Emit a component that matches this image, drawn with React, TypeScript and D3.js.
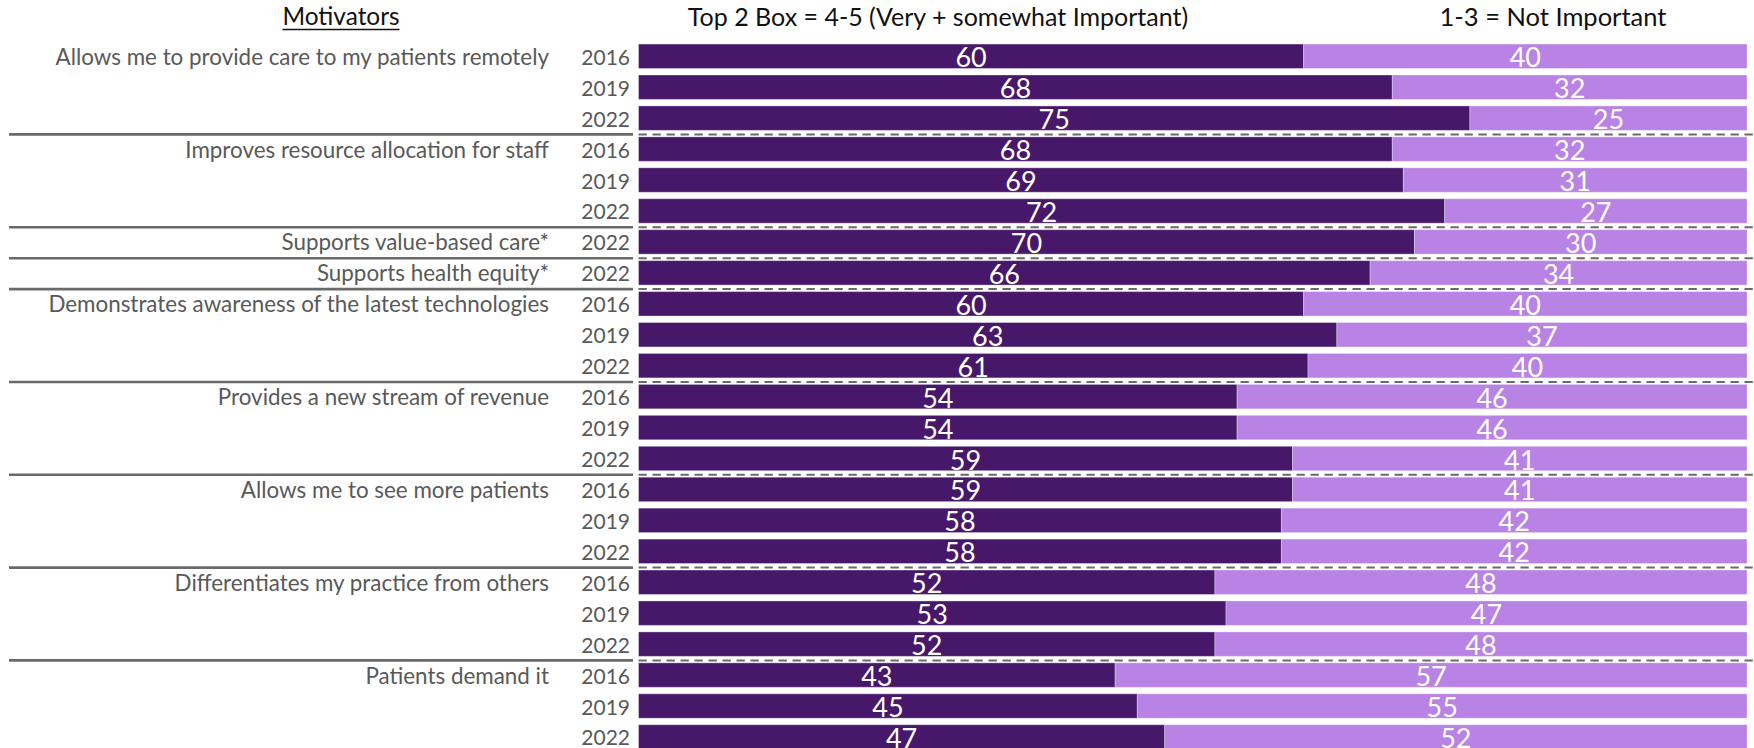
import React from 'react';
import * as d3 from 'd3';

const categories = [
  'Allows me to provide care to my patients remotely',
  'Improves resource allocation for staff',
  'Supports value-based care*',
  'Supports health equity*',
  'Demonstrates awareness of the latest technologies',
  'Provides a new stream of revenue',
  'Allows me to see more patients',
  'Differentiates my practice from others',
  'Patients demand it',
];
const years = [
  ['2016', '2019', '2022'],
  ['2016', '2019', '2022'],
  ['2022'],
  ['2022'],
  ['2016', '2019', '2022'],
  ['2016', '2019', '2022'],
  ['2016', '2019', '2022'],
  ['2016', '2019', '2022'],
  ['2016', '2019', '2022'],
];
const top2Box = [[60, 68, 75], [68, 69, 72], [70], [66], [60, 63, 61], [54, 54, 59], [59, 58, 58], [52, 53, 52], [43, 45, 47]];
const notImportant = [[40, 32, 25], [32, 31, 27], [30], [34], [40, 37, 40], [46, 46, 41], [41, 42, 42], [48, 47, 48], [57, 55, 52]];
const headerMotivators = 'Motivators';
const headerTop2 = 'Top 2 Box = 4-5 (Very + somewhat Important)';
const headerNot = '1-3 = Not Important';

const W = 1754;
const H = 748;
const DARK = '#47186a';
const LIGHT = '#b983e5';
const FONT = "Lato, 'Open Sans', sans-serif";

type Row = { key: number; g: number; first: boolean; last: boolean; year: string; a: number; b: number };

const rows: Row[] = [];
categories.forEach((c, g) => {
  years[g].forEach((yr, i) => {
    rows.push({ key: rows.length, g, first: i === 0, last: i === years[g].length - 1, year: yr, a: top2Box[g][i], b: notImportant[g][i] });
  });
});

export default function App() {
  const step = 30.94;
  const y = d3.scaleBand<number>()
    .domain(rows.map((r) => r.key))
    .range([40.8, 40.8 + rows.length * step])
    .paddingInner(0.21)
    .paddingOuter(0.105);
  const x = d3.scaleLinear().domain([0, 1]).range([638.5, 1747]);
  const bw = y.bandwidth();

  const separators = rows.filter((r, i) => r.last && i < rows.length - 1).map((r) => {
    const nextKey = r.key + 1;
    return ((y(r.key) as number) + bw + (y(nextKey) as number)) / 2 + 0.8;
  });

  return (
    <svg width={W} height={H} style={{ position: 'absolute', left: 0, top: 0, background: '#fff' }} fontFamily={FONT}>
      {/* headers */}
      <text x={341} y={25} textAnchor="middle" fontSize={24.4} fill="#111">{headerMotivators}</text>
      <line x1={282.5} x2={399.5} y1={29.5} y2={29.5} stroke="#111" strokeWidth={1.5} />
      <text x={938} y={26} textAnchor="middle" fontSize={25} fill="#111">{headerTop2}</text>
      <text x={1553} y={26} textAnchor="middle" fontSize={25.5} fill="#111">{headerNot}</text>

      {/* separators */}
      {separators.map((sy, i) => (
        <g key={'s' + i}>
          <line x1={9} x2={633} y1={sy} y2={sy} stroke="#6a6a6a" strokeWidth={2.6} />
          <line x1={638.5} x2={W} y1={sy} y2={sy} stroke="#6a6a6a" strokeWidth={2} strokeDasharray="8.3 5.7" />
        </g>
      ))}

      {rows.map((r) => {
        const y0 = y(r.key) as number;
        const tot = r.a + r.b;
        const xa0 = x(0);
        const xa1 = x(r.a / tot);
        const xb1 = x(1);
        const cy = y0 + bw / 2;
        return (
          <g key={r.key}>
            <rect x={xa0} y={y0} width={xa1 - xa0} height={bw} fill={DARK} stroke="rgba(255,255,255,0.35)" strokeWidth={1} />
            <rect x={xa1} y={y0} width={xb1 - xa1} height={bw} fill={LIGHT} stroke="rgba(255,255,255,0.3)" strokeWidth={1} />
            <text x={(xa0 + xa1) / 2} y={y0 + bw - 1.2} textAnchor="middle" fontSize={27} fill="#fff">{r.a}</text>
            <text x={(xa1 + xb1) / 2} y={y0 + bw - 1.2} textAnchor="middle" fontSize={27} fill="#fff">{r.b}</text>
            <text x={630} y={cy + 8.5} textAnchor="end" fontSize={21} fill="#595959">{r.year}</text>
            {r.first && (
              <text x={549} y={cy + 8.5} textAnchor="end" fontSize={22.4} fill="#595959">{categories[r.g]}</text>
            )}
          </g>
        );
      })}
    </svg>
  );
}
